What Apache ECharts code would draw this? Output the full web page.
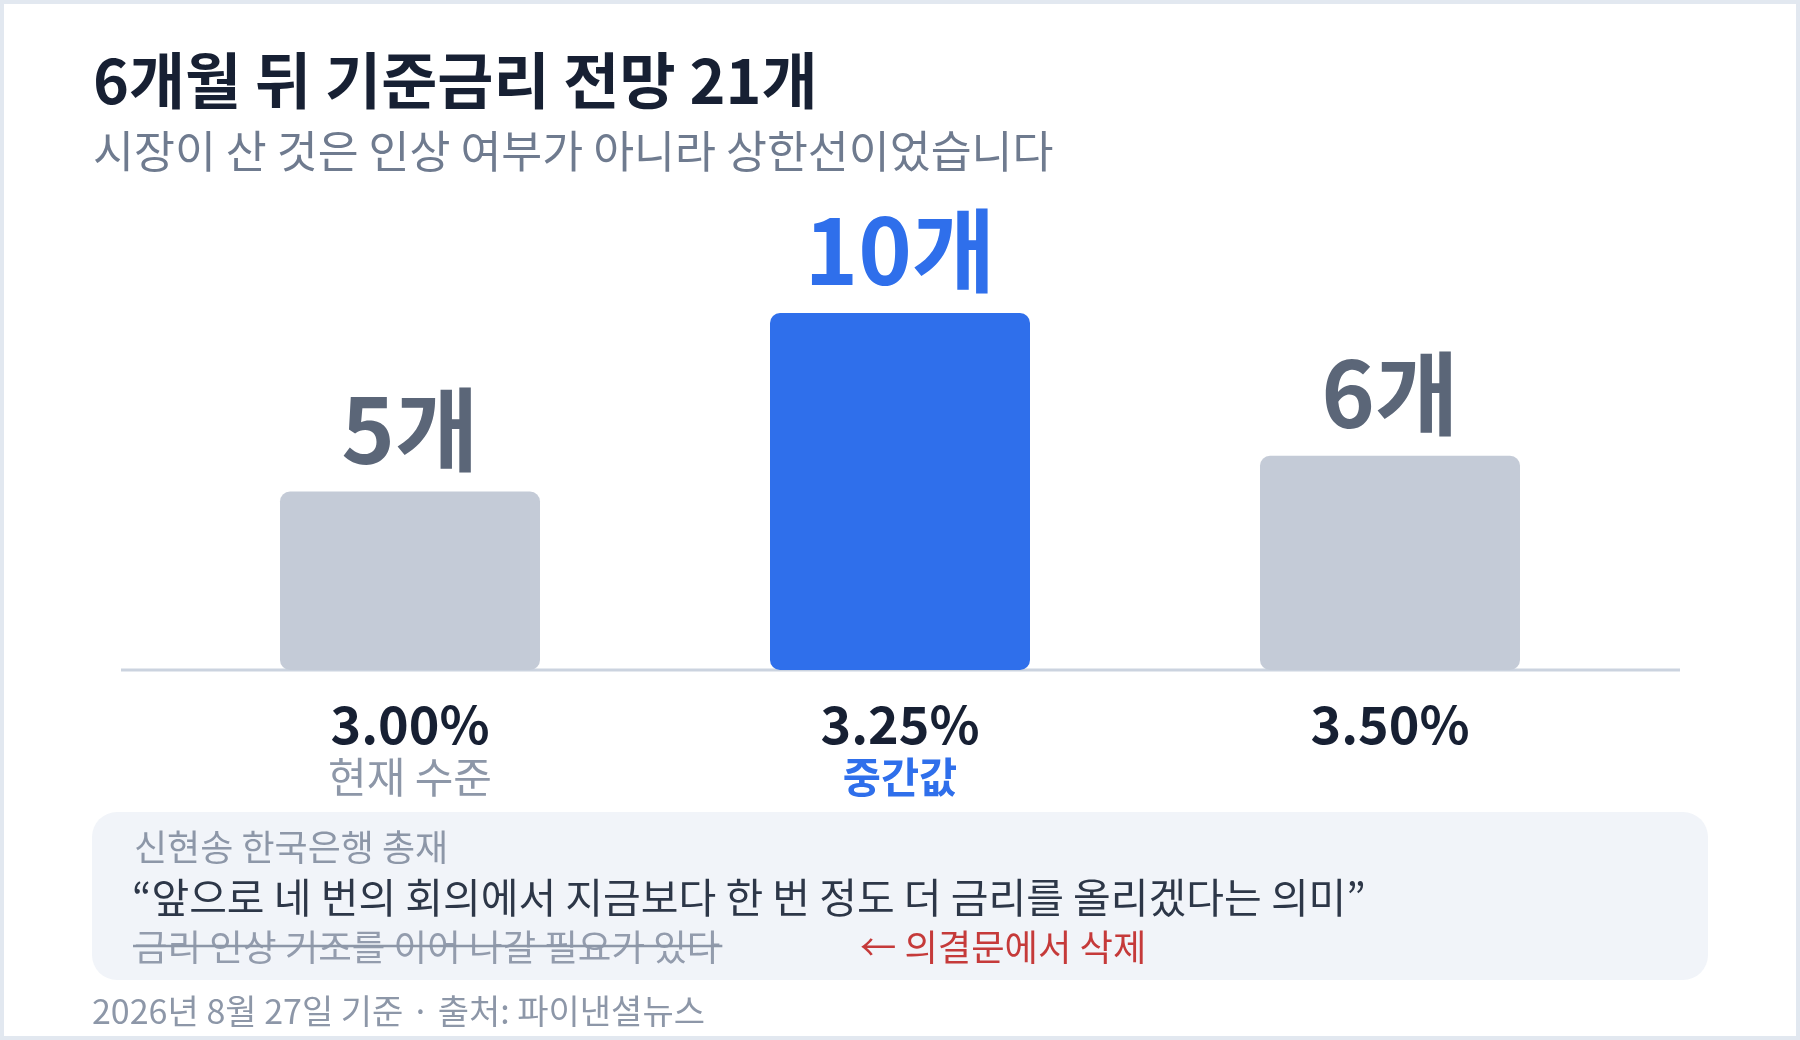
<!DOCTYPE html>
<html>
<head>
<meta charset="utf-8">
<script src="https://cdn.jsdelivr.net/npm/echarts@6/dist/echarts.min.js"></script>
<style>
  html, body { margin: 0; padding: 0; background: #ffffff; }
  #wrap { position: relative; width: 1800px; height: 1040px; }
  #chart { position: absolute; left: 0; top: 0; width: 1800px; height: 1040px; background: #ffffff; }
  #frame { position: absolute; left: 0; top: 0; width: 1800px; height: 1040px; box-sizing: border-box; border: 4px solid #E2E8F0; pointer-events: none; }
</style>
</head>
<body>
<div id="wrap"><div id="chart"></div><div id="frame"></div></div>
<script>
// ---- data ----
const rates = ['3.00%', '3.25%', '3.50%'];
const rateNotes = ['현재 수준', '중간값', ''];
const forecastCounts = [5, 10, 6];
const highlightIndex = 1;
const unit = '개';

const titleText = '6개월 뒤 기준금리 전망 21개';
const subtitleText = '시장이 산 것은 인상 여부가 아니라 상한선이었습니다';
const quoteSpeaker = '신현송 한국은행 총재';
const quoteText = '“앞으로 네 번의 회의에서 지금보다 한 번 정도 더 금리를 올리겠다는 의미”';
const deletedText = '금리 인상 기조를 이어 나갈 필요가 있다';
const deletedNote = '← 의결문에서 삭제';
const footerText = '2026년 8월 27일 기준 · 출처: 파이낸셜뉴스';

// ---- styles ----
const FONT = "'Noto Sans CJK KR', 'Noto Sans', sans-serif";
const BLUE = '#2F6FEB';
const GRAY_BAR = '#C4CBD7';
const GRAY_LABEL = '#5B6678';

function textWidth(str, font) {
  const c = document.createElement('canvas').getContext('2d');
  c.font = font;
  return c.measureText(str).width;
}
const delFontSize = 36.5;
const delWidth = textWidth(deletedText, `400 ${delFontSize}px 'Noto Sans CJK KR'`);

const chart = echarts.init(document.getElementById('chart'), null, { renderer: 'canvas' });

const option = {
  backgroundColor: '#ffffff',
  animation: false,
  textStyle: { fontFamily: FONT },
  grid: { left: 165, right: 165, top: 313, bottom: 370, containLabel: false },
  xAxis: {
    type: 'category',
    data: rates,
    axisLine: { show: false },
    axisTick: { show: false },
    axisLabel: {
      margin: 26,
      interval: 0,
      formatter: function (val, idx) {
        const note = rateNotes[idx];
        const noteStyle = idx === highlightIndex ? 'noteHi' : 'note';
        return '{rate|' + val + '}' + (note ? '\n{' + noteStyle + '|' + note + '}' : '');
      },
      rich: {
        rate: { fontFamily: FONT, fontSize: 52, fontWeight: 'bold', color: '#172033', lineHeight: 56 },
        note: { fontFamily: FONT, fontSize: 42, fontWeight: 'normal', color: '#8D97A8', lineHeight: 50 },
        noteHi: { fontFamily: FONT, fontSize: 41.5, fontWeight: 'bold', color: BLUE, lineHeight: 50 }
      }
    }
  },
  yAxis: {
    type: 'value',
    min: 0,
    max: 10,
    show: false,
    splitLine: { show: false }
  },
  series: [{
    type: 'bar',
    barWidth: 260,
    z: 3,
    data: forecastCounts.map(function (v, i) {
      const hi = i === highlightIndex;
      return {
        value: v,
        itemStyle: { color: hi ? BLUE : GRAY_BAR, borderRadius: 10 },
        label: { color: hi ? BLUE : GRAY_LABEL }
      };
    }),
    label: {
      show: true,
      position: 'top',
      distance: 17,
      formatter: function (p) { return p.value + unit; },
      fontFamily: FONT,
      fontSize: 91,
      fontWeight: 'bold'
    }
  }],
  graphic: [
    // baseline
    { type: 'line', z: 1, shape: { x1: 121, y1: 670, x2: 1680, y2: 670 }, style: { stroke: '#CBD3DF', lineWidth: 3 } },
    // title
    { type: 'text', z: 5, x: 93, y: 81, style: { text: titleText, fontFamily: FONT, fontSize: 61, fontWeight: 'bold', fill: '#172033', verticalAlign: 'middle', align: 'left' } },
    { type: 'text', z: 5, x: 93, y: 151, style: { text: subtitleText, fontFamily: FONT, fontSize: 44.5, fontWeight: 'normal', fill: '#6F7B8F', verticalAlign: 'middle', align: 'left' } },
    // quote box
    { type: 'rect', z: 0, shape: { x: 92, y: 812, width: 1616, height: 168, r: 25 }, style: { fill: '#F1F4F9' } },
    { type: 'text', z: 5, x: 134, y: 847, style: { text: quoteSpeaker, fontFamily: FONT, fontSize: 36, fill: '#8D97A8', verticalAlign: 'middle', align: 'left' } },
    { type: 'text', z: 5, x: 132, y: 897, style: { text: quoteText, fontFamily: FONT, fontSize: 41, fill: '#2D3748', verticalAlign: 'middle', align: 'left' } },
    { type: 'text', z: 5, x: 134, y: 947, style: { text: deletedText, fontFamily: FONT, fontSize: delFontSize, fill: '#939CAD', verticalAlign: 'middle', align: 'left' } },
    { type: 'line', z: 6, shape: { x1: 133, y1: 946, x2: 134 + delWidth + 2, y2: 946 }, style: { stroke: '#8D97A8', lineWidth: 2.5 } },
    { type: 'text', z: 5, x: 860, y: 947, style: { text: deletedNote, fontFamily: FONT, fontSize: 36.3, fill: '#C53A3A', verticalAlign: 'middle', align: 'left' } },
    // footer
    { type: 'text', z: 5, x: 92, y: 1011, style: { text: footerText, fontFamily: FONT, fontSize: 34, fill: '#8D97A8', verticalAlign: 'middle', align: 'left' } }
  ]
};

chart.setOption(option);
</script>
</body>
</html>
